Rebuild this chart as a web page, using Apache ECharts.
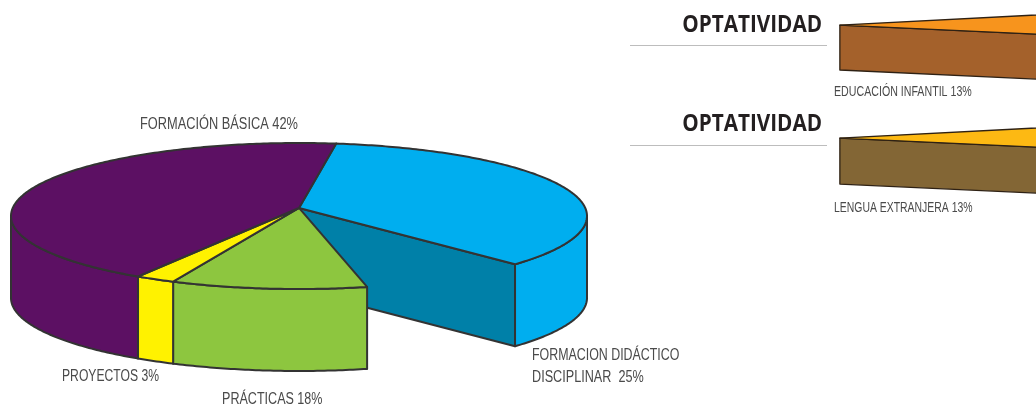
<!DOCTYPE html>
<html>
<head>
<meta charset="utf-8">
<style>
    html, body { margin: 0; padding: 0; background: #fff; overflow: hidden; }
    #main { width: 1036px; height: 408px; }
</style>
<script src="https://cdn.jsdelivr.net/npm/echarts@6/dist/echarts.min.js"></script>
</head>
<body>
<div id="main"></div>
<script>
// tramos en sentido horario desde el borde azul/morado; el area dibujada no coincide con la etiqueta
var categorias = ['FORMACION DIDÁCTICO DISCIPLINAR', 'HUECO', 'PRÁCTICAS', 'PROYECTOS', 'FORMACIÓN BÁSICA'];
var porcentajes = [25, null, 18, 3, 42];
var tramosDibujados = [34.44, 9.7, 11, 2.24, 42.62];
var inicioGiro = 2.06;

var optativas = ['EDUCACIÓN INFANTIL', 'LENGUA EXTRANJERA'];
var porcentajesOptativas = [13, 13];
var tramoOptativa = [6.03, 6.03];
var inicioOptativa = [21.83, 21.83];

var myChart = echarts.init(document.getElementById('main'), null, { renderer: 'canvas' });

var coloresPie = ['#00AEEF', null, '#8DC63F', '#FFF200', '#5C1063'];
var corteAzul = '#0080A8';

// data: [desde, hasta, indice]
var datosPie = [];
var acum = inicioGiro;
tramosDibujados.forEach(function (t, i) {
    datosPie.push([acum, acum + t, i]);
    acum += t;
});

// rebanada: cara superior, lateral visible y cara de corte
function rebanada(conf) {
    return function (params, api) {
        var desde = api.value(0), hasta = api.value(1), i = api.value(2);
        var color = conf.colores[i];
        if (!color) return null;
        var punto = function (t, baja) {
            var a = t * Math.PI * 2 / 100;
            return api.coord([conf.centro[0] + Math.sin(a), conf.centro[1] + Math.cos(a) - baja]);
        };
        var estilo = function (fill) {
            return { fill: fill, stroke: conf.linea, lineWidth: conf.grosor, lineJoin: 'round' };
        };
        var children = [];
        var apice = api.coord([conf.centro[0], conf.centro[1] + conf.apiceY]);
        var apiceBajo = api.coord([conf.centro[0], conf.centro[1] + conf.apiceY - conf.fondo]);
        var paso = 0.2;

        if (conf.corte[i]) {
            children.push({
                type: 'polygon',
                shape: { points: [apice, punto(hasta, 0), punto(hasta, conf.fondo), apiceBajo] },
                style: estilo(conf.corte[i])
            });
        }

        var d = Math.max(desde, 25), h = Math.min(hasta, 75);
        if (h > d) {
            var lado = [], t;
            for (t = d; t < h; t += paso) lado.push(punto(t, 0));
            lado.push(punto(h, 0));
            for (t = h; t > d; t -= paso) lado.push(punto(t, conf.fondo));
            lado.push(punto(d, conf.fondo));
            children.push({ type: 'polygon', shape: { points: lado }, style: estilo(color) });
        }

        var tapa = [apice];
        for (var s = desde; s < hasta; s += paso) tapa.push(punto(s, 0));
        tapa.push(punto(hasta, 0));
        children.push({ type: 'polygon', shape: { points: tapa }, style: estilo(color) });

        return { type: 'group', children: children };
    };
}

function etiqueta(txt, x, y, size, escala) {
    return {
        type: 'text', x: x, y: y, scaleX: escala, silent: true,
        style: {
            text: txt, fontSize: size, fontFamily: '"Liberation Sans"', fill: '#4a4a4a',
            textVerticalAlign: 'middle'
        }
    };
}

function titulo(y) {
    return {
        type: 'text', x: 822, y: y, scaleX: 0.9, silent: true,
        style: {
            text: 'OPTATIVIDAD', fontFamily: '"Open Sans"', fontWeight: 'bold', fontSize: 23, fill: '#231f20',
            textAlign: 'right', textVerticalAlign: 'middle'
        }
    };
}

function raya(y) {
    return {
        type: 'line', silent: true,
        shape: { x1: 630, y1: y, x2: 827, y2: y },
        style: { stroke: '#bdbdbd', lineWidth: 1 }
    };
}

var option = {
    backgroundColor: '#fff',
    animation: false,
    grid: { left: 11, width: 576, top: 143, height: 146 },
    xAxis: { type: 'value', min: -1, max: 1, show: false },
    yAxis: { type: 'value', min: -1, max: 1, show: false },
    series: [
        {
            type: 'custom', clip: false, silent: true,
            renderItem: rebanada({
                centro: [0, 0], colores: coloresPie,
                corte: [corteAzul, null, null, null, null],
                apiceY: 0.11, fondo: 1.123, linea: '#333', grosor: 2
            }),
            data: datosPie
        },
        {
            type: 'custom', clip: false, silent: true,
            renderItem: rebanada({
                centro: [1.878, 2.616], colores: ['#F7941D'], corte: ['#A4612B'],
                apiceY: 0, fondo: 0.616, linea: '#2e2114', grosor: 1.3
            }),
            data: [[inicioOptativa[0], inicioOptativa[0] + tramoOptativa[0], 0]]
        },
        {
            type: 'custom', clip: false, silent: true,
            renderItem: rebanada({
                centro: [1.878, 1.068], colores: ['#FDB913'], corte: ['#836635'],
                apiceY: 0, fondo: 0.63, linea: '#2e2114', grosor: 1.3
            }),
            data: [[inicioOptativa[1], inicioOptativa[1] + tramoOptativa[1], 0]]
        }
    ],
    graphic: [
        etiqueta(categorias[4] + ' ' + porcentajes[4] + '%', 140, 125, 16, 0.8),
        etiqueta('FORMACION DIDÁCTICO', 532, 356, 16, 0.775),
        etiqueta('DISCIPLINAR  ' + porcentajes[0] + '%', 532, 378, 16, 0.79),
        etiqueta(categorias[3] + ' ' + porcentajes[3] + '%', 62, 377, 16, 0.76),
        etiqueta(categorias[2] + ' ' + porcentajes[2] + '%', 222, 400, 16, 0.785),
        etiqueta(optativas[0] + ' ' + porcentajesOptativas[0] + '%', 834, 92, 14, 0.76),
        etiqueta(optativas[1] + ' ' + porcentajesOptativas[1] + '%', 834, 208, 14, 0.745),
        titulo(25), titulo(124),
        raya(45.5), raya(145.5)
    ]
};
myChart.setOption(option);
</script>
</body>
</html>
